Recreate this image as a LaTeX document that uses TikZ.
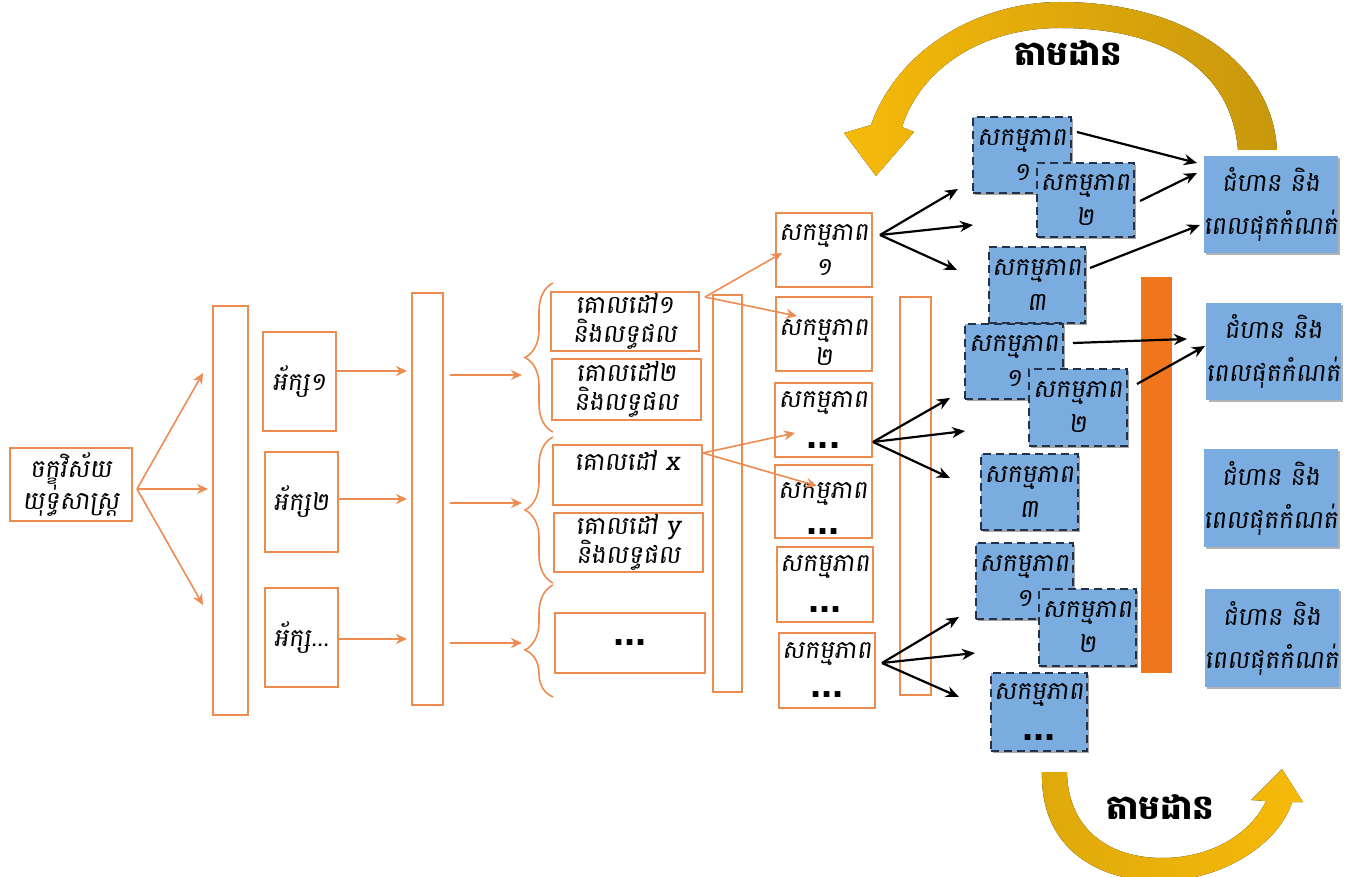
\documentclass[tikz,border=0pt]{standalone}
\usepackage{fontspec}
\setmainfont{Liberation Sans}
\newfontfamily\khmer[Script=Khmer,FakeSlant=0.12]{Battambang}
\newfontfamily\khmerup[Script=Khmer]{Battambang}
\usetikzlibrary{arrows.meta,shadows,decorations.pathreplacing,calc}
\definecolor{oc}{RGB}{236,140,80}
\definecolor{bc}{RGB}{122,172,224}
\definecolor{nv}{RGB}{35,50,72}
\definecolor{ob}{RGB}{240,118,30}
\definecolor{yl}{RGB}{246,186,10}
\definecolor{yd}{RGB}{200,152,12}
\newcommand\mybox[7]{\node[#6, minimum width={(#4-#2)*0.5pt}, minimum height={(#5-#3)*0.5pt}] (#1) at ({(#2+#4)/2},{(#3+#5)/2}) {#7};}
\newcommand\mydots{{\rmfamily\bfseries\fontsize{20}{14}\selectfont...}}
\tikzset{
 kt/.style={font=\khmer\fontsize{12.5}{16}\selectfont},
 gt/.style={font=\khmer\fontsize{12.5}{14.5}\selectfont},
 actt/.style={font=\khmer\fontsize{12.5}{17.5}\selectfont},
 rt/.style={font=\khmer\fontsize{12.5}{21.5}\selectfont},
 obox/.style={draw=oc, line width=1pt, fill=white, inner sep=0pt, outer sep=0pt, align=center},
 bbox/.style={draw=nv, line width=1.1pt, dash pattern=on 4pt off 2.5pt, fill=bc, inner sep=0pt, outer sep=0pt, align=center, drop shadow={shadow xshift=1.2pt, shadow yshift=-1.2pt, opacity=0.35, fill=black}},
 rbox/.style={fill=bc, inner sep=0pt, outer sep=0pt, align=center, drop shadow={shadow xshift=1.2pt, shadow yshift=-1.2pt, opacity=0.3, fill=black}},
 oarr/.style={draw=oc, line width=0.8pt, -{Stealth[length=5.5pt,width=5pt]}},
 karr/.style={draw=black, line width=1.1pt, -{Stealth[length=6.5pt,width=5.5pt]}},
 obrace/.style={draw=oc, line width=0.8pt, decorate, decoration={brace, mirror, amplitude=14pt}},
}
\begin{document}
\begin{tikzpicture}[x=0.5pt,y=-0.5pt]
\useasboundingbox (0,0) rectangle (1346,877);
% yellow arrows
\fill[left color=yl, right color=yd]
  (1238,150) .. controls (1230,60) and (1150,28) .. (1060,28)
  .. controls (980,28) and (920,70) .. (902,127)
  -- (914,132) -- (876,176) -- (844,133) -- (871,125)
  .. controls (898,48) and (980,2) .. (1060,2)
  .. controls (1182,2) and (1272,60) .. (1277,150) -- cycle;
\fill[left color=yd!50!yl, right color=yl]
  (1042,772) .. controls (1040,850) and (1100,882) .. (1162,881)
  .. controls (1225,880) and (1280,842) .. (1292,802)
  -- (1303,802) -- (1282,769) -- (1251,800) -- (1266,801)
  .. controls (1250,835) and (1210,858) .. (1162,858)
  .. controls (1110,858) and (1068,830) .. (1067,772) -- cycle;
\node[font=\khmerup\bfseries\fontsize{17}{17}\selectfont] (t1) at (1068,53) {តាមដាន};
\node[font=\khmerup\bfseries\fontsize{17}{17}\selectfont] (t2) at (1160,807) {តាមដាន};
% left part
\mybox{vis}{10}{448}{132}{521}{obox,kt}{ចក្ខុវិស័យ\\យុទ្ធសាស្ត្រ}
\mybox{bar1}{213}{306}{248}{715}{obox}{}
\mybox{ax1}{263}{332}{336}{431}{obox,kt}{អ័ក្ស១}
\mybox{ax2}{265}{452}{338}{552}{obox,kt}{អ័ក្ស២}
\mybox{ax3}{265}{588}{338}{687}{obox,kt}{អ័ក្ស...}
\mybox{bar2}{412}{293}{443}{705}{obox}{}
\mybox{g1}{551}{292}{699}{351}{obox,gt}{គោលដៅ១\\និងលទ្ធផល}
\mybox{g2}{552}{359}{701}{420}{obox,gt}{គោលដៅ២\\និងលទ្ធផល}
\mybox{gx}{553}{445}{702}{505}{obox,gt}{គោលដៅ x\\\mbox{}}
\mybox{gy}{554}{513}{703}{572}{obox,gt}{គោលដៅ y\\និងលទ្ធផល}
\mybox{gd}{555}{613}{705}{673}{obox}{\mydots}
\mybox{bar3}{713}{295}{742}{692}{obox}{}
\mybox{a1}{776}{213}{872}{287}{obox,actt}{សកម្មភាព\\១}
\mybox{a2}{776}{297}{872}{371}{obox}{}
\node[align=center, font=\khmer\fontsize{12.5}{15}\selectfont] (a2t) at (824,343) {សកម្មភាព\\២};
\mybox{a3}{775}{383}{872}{457}{obox,actt}{សកម្មភាព\\[3pt]\mydots}
\mybox{a4}{775}{465}{872}{538}{obox}{}
\node[align=center, font=\khmer\fontsize{12.5}{15}\selectfont] (a4t) at (823,509) {សកម្មភាព\\[3pt]\mydots};
\mybox{a5}{777}{547}{873}{622}{obox,actt}{សកម្មភាព\\[3pt]\mydots}
\mybox{a6}{779}{633}{875}{708}{obox,actt}{សកម្មភាព\\[2pt]\mydots}
\mybox{bar4}{900}{297}{931}{695}{obox}{}
\mybox{obar}{1141}{277}{1172}{673}{fill=ob,inner sep=0pt,outer sep=0pt}{}
% blue dashed boxes
\mybox{A1}{973}{117}{1071}{193}{bbox,actt}{សកម្មភាព\\១}
\mybox{A2}{1037}{163}{1134}{237}{bbox,actt}{សកម្មភាព\\២}
\mybox{A3}{989}{247}{1085}{323}{bbox,actt}{សកម្មភាព\\៣}
\mybox{B1}{965}{324}{1063}{399}{bbox,actt}{សកម្មភាព\\១}
\mybox{B2}{1029}{369}{1127}{446}{bbox,actt}{សកម្មភាព\\២}
\mybox{B3}{981}{454}{1078}{530}{bbox,actt}{សកម្មភាព\\៣}
\mybox{C1}{976}{543}{1073}{619}{bbox,actt}{សកម្មភាព\\១}
\mybox{C2}{1039}{589}{1136}{666}{bbox,actt}{សកម្មភាព\\២}
\mybox{C3}{991}{673}{1087}{751}{bbox,actt}{សកម្មភាព\\[3pt]\mydots}
% right boxes
\mybox{R1}{1204}{156}{1338}{253}{rbox,rt}{ជំហាន និង\\ពេលផុតកំណត់}
\mybox{R2}{1207}{303}{1340}{400}{rbox,rt}{ជំហាន និង\\ពេលផុតកំណត់}
\mybox{R3}{1204}{449}{1338}{547}{rbox,rt}{ជំហាន និង\\ពេលផុតកំណត់}
\mybox{R4}{1205}{589}{1339}{687}{rbox,rt}{ជំហាន និង\\ពេលផុតកំណត់}
% coordinates
\coordinate (vo) at (137,489);
\coordinate (e1) at (203,373); \coordinate (e2) at (208,489); \coordinate (e3) at (203,605);
\coordinate (x1) at (407,371); \coordinate (x2) at (407,499); \coordinate (x3) at (407,639);
\coordinate (s1) at (450,375); \coordinate (s2) at (450,503); \coordinate (s3) at (450,643);
\coordinate (b1) at (522,375); \coordinate (b2) at (522,503); \coordinate (b3) at (522,643);
\coordinate (br1t) at (553,283); \coordinate (br1b) at (553,432);
\coordinate (br2t) at (553,437); \coordinate (br2b) at (553,583);
\coordinate (br3t) at (553,585); \coordinate (br3b) at (553,697);
\coordinate (g1o) at (705,297); \coordinate (gxo) at (703,453);
\coordinate (a1i) at (782,253); \coordinate (a2i) at (797,316);
\coordinate (a3i) at (795,433); \coordinate (a4i) at (817,486);
\coordinate (a1o) at (880,235); \coordinate (a3o) at (873,442); \coordinate (a6o) at (882,663);
\coordinate (k11) at (958,189); \coordinate (k12) at (973,225); \coordinate (k13) at (957,270);
\coordinate (k31) at (950,398); \coordinate (k32) at (965,431); \coordinate (k33) at (950,478);
\coordinate (k61) at (959,617); \coordinate (k62) at (975,653); \coordinate (k63) at (959,697);
\coordinate (A1o) at (1077,132); \coordinate (A2o) at (1140,201); \coordinate (A3o) at (1090,268);
\coordinate (B1o) at (1073,343); \coordinate (B2o) at (1137,384);
\coordinate (r11) at (1197,163); \coordinate (r12) at (1197,173); \coordinate (r13) at (1200,225);
\coordinate (r21) at (1187,339); \coordinate (r22) at (1205,346);
% orange connectors
\draw[oarr] (vo) -- (e1);
\draw[oarr] (vo) -- (e2);
\draw[oarr] (vo) -- (e3);
\draw[oarr] (ax1.east |- x1) -- (x1);
\draw[oarr] (ax2.east |- x2) -- (x2);
\draw[oarr] (ax3.east |- x3) -- (x3);
\draw[oarr] (s1) -- (b1);
\draw[oarr] (s2) -- (b2);
\draw[oarr] (s3) -- (b3);
\draw[obrace] (br1t) -- (br1b);
\draw[obrace] (br2t) -- (br2b);
\draw[obrace,decoration={aspect=0.58}] (br3t) -- (br3b);
\draw[oarr] (g1o) -- (a1i);
\draw[oarr] (g1o) -- (a2i);
\draw[oarr] (gxo) -- (a3i);
\draw[oarr] (gxo) -- (a4i);
% black connectors
\foreach \t in {k11,k12,k13} \draw[karr] (a1o) -- (\t);
\foreach \t in {k31,k32,k33} \draw[karr] (a3o) -- (\t);
\foreach \t in {k61,k62,k63} \draw[karr] (a6o) -- (\t);
\draw[karr] (A1o) -- (r11);
\draw[karr] (A2o) -- (r12);
\draw[karr] (A3o) -- (r13);
\draw[karr] (B1o) -- (r21);
\draw[karr] (B2o) -- (r22);
\end{tikzpicture}
\end{document}
